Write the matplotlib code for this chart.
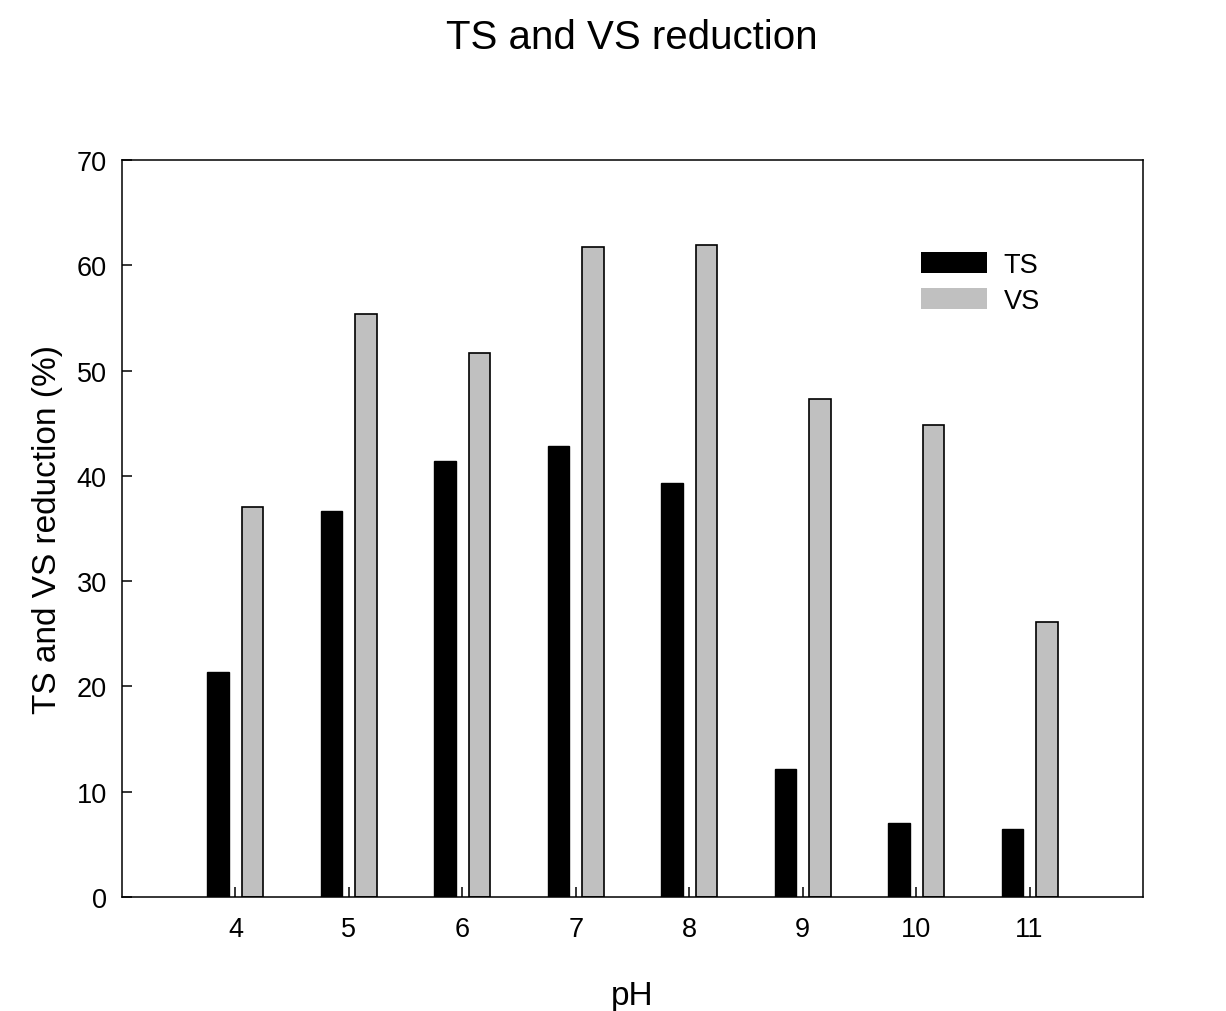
import numpy as np
import matplotlib
matplotlib.use('Agg')
import matplotlib.pyplot as plt
from matplotlib.patches import Patch

plt.rcParams['font.family'] = ['Liberation Sans', 'DejaVu Sans']

# data
ph = [4, 5, 6, 7, 8, 9, 10, 11]
ts_reduction = [21.4, 36.7, 41.4, 42.8, 39.3, 12.2, 7.0, 6.5]
vs_reduction = [37.0, 55.4, 51.7, 61.7, 61.9, 47.3, 44.8, 26.1]
yticks = [0, 10, 20, 30, 40, 50, 60, 70]

fig = plt.figure(figsize=(12.26, 10.12), dpi=100)
ax = fig.add_axes([122/1226, 1 - 898/1012, 1021/1226, 737/1012])

x = np.array(ph)
w = 0.19
off = 0.152
ax.bar(x - off, ts_reduction, w, color='black', edgecolor='black', linewidth=1.0)
ax.bar(x + off, vs_reduction, w, color='#c0c0c0', edgecolor='black', linewidth=1.2)

ax.set_xlim(3, 12)
ax.set_ylim(0, 70)
ax.set_xticks(ph)
ax.set_xticklabels([str(p) for p in ph])
ax.set_yticks(yticks)
ax.tick_params(direction='in', length=7, width=1.1, labelsize=19.5)
ax.tick_params(axis='x', pad=14)
ax.tick_params(axis='y', pad=11)
for s in ax.spines.values():
    s.set_linewidth(1.1)

ax.set_xlabel('pH', fontsize=24, labelpad=27)
ax.set_ylabel('TS and VS reduction (%)', fontsize=24, labelpad=10)

fig.text(632/1226, 1 - 49/1012, 'TS and VS reduction', fontsize=29,
         ha='center', va='baseline')

handles = [Patch(facecolor='black', edgecolor='none', label='TS'),
           Patch(facecolor='#c0c0c0', edgecolor='none', label='VS')]
ax.legend(handles=handles, loc='upper left', bbox_to_anchor=(0.7826, 0.875),
          frameon=False, fontsize=19.5, handlelength=2.45, handleheight=0.8,
          labelspacing=0.36, handletextpad=0.6, borderpad=0, borderaxespad=0)

plt.savefig('out.png', dpi=100)
